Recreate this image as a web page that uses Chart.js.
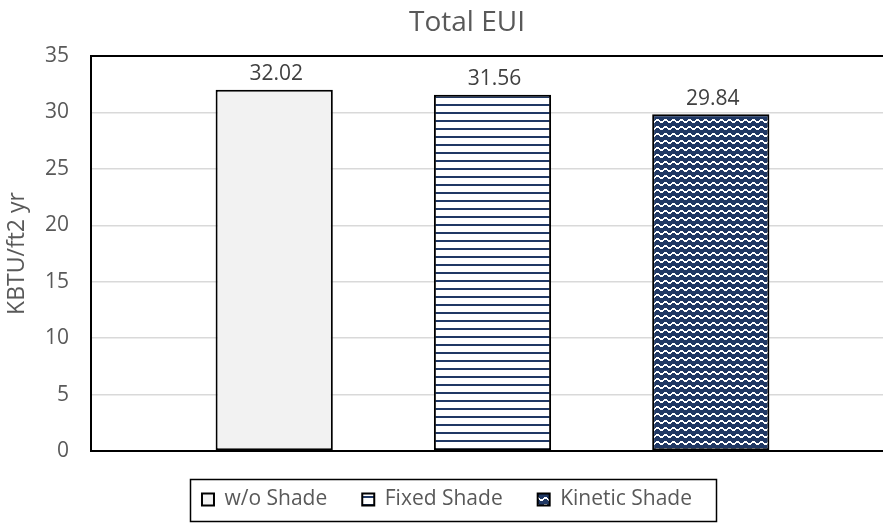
<!DOCTYPE html>
<html>
<head>
<meta charset="utf-8">
<script src="https://cdn.jsdelivr.net/npm/chart.js@4/dist/chart.umd.min.js"></script>
<style>
html,body{margin:0;padding:0;background:#fff;overflow:hidden;}
#wrap{width:900px;height:525px;position:relative;}
</style>
</head>
<body>
<div id="wrap"><canvas id="c" width="900" height="525"></canvas></div>
<script>
const chartTitle = 'Total EUI';
const yAxisTitle = 'KBTU/ft2 yr';
const categories = [''];
const seriesNames = ['w/o Shade', 'Fixed Shade', 'Kinetic Shade'];
const woShade = [32.02];
const fixedShade = [31.56];
const kineticShade = [29.84];
const yTicks = [0, 5, 10, 15, 20, 25, 30, 35];

const NAVY = '#203864';
const FONT = "'Open Sans', 'DejaVu Sans', sans-serif";

function stripePattern() {
  const c = document.createElement('canvas');
  c.width = 8; c.height = 8;
  const x = c.getContext('2d');
  x.fillStyle = '#ffffff'; x.fillRect(0, 0, 8, 8);
  x.fillStyle = NAVY; x.fillRect(0, 0, 8, 2);
  return x.createPattern(c, 'repeat');
}
function wavePattern() {
  const c = document.createElement('canvas');
  c.width = 8; c.height = 7;
  const x = c.getContext('2d');
  x.fillStyle = NAVY; x.fillRect(0, 0, 8, 7);
  x.fillStyle = '#ffffff';
  const ys = [0, 0, 0, 1, 2, 2, 2, 1];
  ys.forEach((yy, i) => x.fillRect(i, yy, 1, 2));
  return x.createPattern(c, 'repeat');
}

const valueLabels = {
  id: 'valueLabels',
  afterDatasetsDraw(chart) {
    const ctx = chart.ctx;
    ctx.save();
    ctx.font = '21px ' + FONT;
    ctx.fillStyle = '#404040';
    ctx.textAlign = 'center';
    ctx.textBaseline = 'bottom';
    chart.data.datasets.forEach((ds, i) => {
      const meta = chart.getDatasetMeta(i);
      meta.data.forEach((el, j) => {
        ctx.fillText(ds.data[j].toFixed(2), el.x + 2, el.y - 5);
      });
    });
    ctx.restore();
  }
};

const titleAndLegendBox = {
  id: 'titleAndLegendBox',
  afterDraw(chart) {
    const ctx = chart.ctx;
    ctx.save();
    ctx.font = '28px ' + FONT;
    ctx.fillStyle = '#595959';
    ctx.textAlign = 'center';
    ctx.textBaseline = 'middle';
    ctx.fillText(chartTitle, 467, 23);
    const lg = chart.legend;
    if (lg && lg.legendHitBoxes && lg.legendHitBoxes.length) {
      let l = Infinity, r = -Infinity, t = Infinity, b = -Infinity;
      lg.legendHitBoxes.forEach(h => {
        l = Math.min(l, h.left); r = Math.max(r, h.left + h.width);
        t = Math.min(t, h.top); b = Math.max(b, h.top + h.height);
      });
      const cy = (t + b) / 2;
      ctx.strokeStyle = '#000000';
      ctx.lineWidth = 1.5;
      ctx.strokeRect(Math.round(l - 12) + 0.5, Math.round(cy - 21) + 0.5, Math.round(r - l + 36), 42);
    }
    ctx.restore();
  }
};

new Chart(document.getElementById('c'), {
  type: 'bar',
  data: {
    labels: categories,
    datasets: [
      { label: seriesNames[0], data: woShade, backgroundColor: '#f2f2f2', borderColor: '#000000', borderWidth: 2, borderSkipped: false },
      { label: seriesNames[1], data: fixedShade, backgroundColor: stripePattern(), borderColor: '#000000', borderWidth: 2, borderSkipped: false },
      { label: seriesNames[2], data: kineticShade, backgroundColor: wavePattern(), borderColor: '#000000', borderWidth: 2, borderSkipped: false }
    ]
  },
  options: {
    responsive: false,
    animation: false,
    devicePixelRatio: 1,
    layout: { padding: { top: 56, right: 6, bottom: 5, left: 0 } },
    datasets: { bar: { categoryPercentage: 0.8155, barPercentage: 0.537 } },
    scales: {
      x: {
        grid: { display: false },
        border: { display: true, color: '#000000', width: 2 },
        ticks: { display: false },
        afterFit(axis) { axis.height = 3; }
      },
      y: {
        min: 0, max: 35,
        afterBuildTicks(axis) { axis.ticks = yTicks.map(v => ({ value: v })); },
        afterFit(axis) { axis.width = 91; },
        grid: {
          color: ctx => (ctx.tick && ctx.tick.value === 35) ? '#000000' : '#d9d9d9',
          lineWidth: ctx => (ctx.tick && ctx.tick.value === 35) ? 2 : 1.5,
          drawTicks: false
        },
        border: { display: true, color: '#000000', width: 2 },
        ticks: { padding: 22, color: '#595959', font: { size: 21, family: FONT } },
        title: { display: true, text: yAxisTitle, color: '#595959', font: { size: 23, family: FONT }, padding: { top: 4, bottom: 0 } }
      }
    },
    plugins: {
      legend: {
        position: 'bottom',
        maxHeight: 72,
        labels: { boxWidth: 12, boxHeight: 12, padding: 35, color: '#595959', font: { size: 21, family: FONT } }
      },
      title: { display: false },
      tooltip: { enabled: false }
    }
  },
  plugins: [valueLabels, titleAndLegendBox]
});
</script>
</body>
</html>
